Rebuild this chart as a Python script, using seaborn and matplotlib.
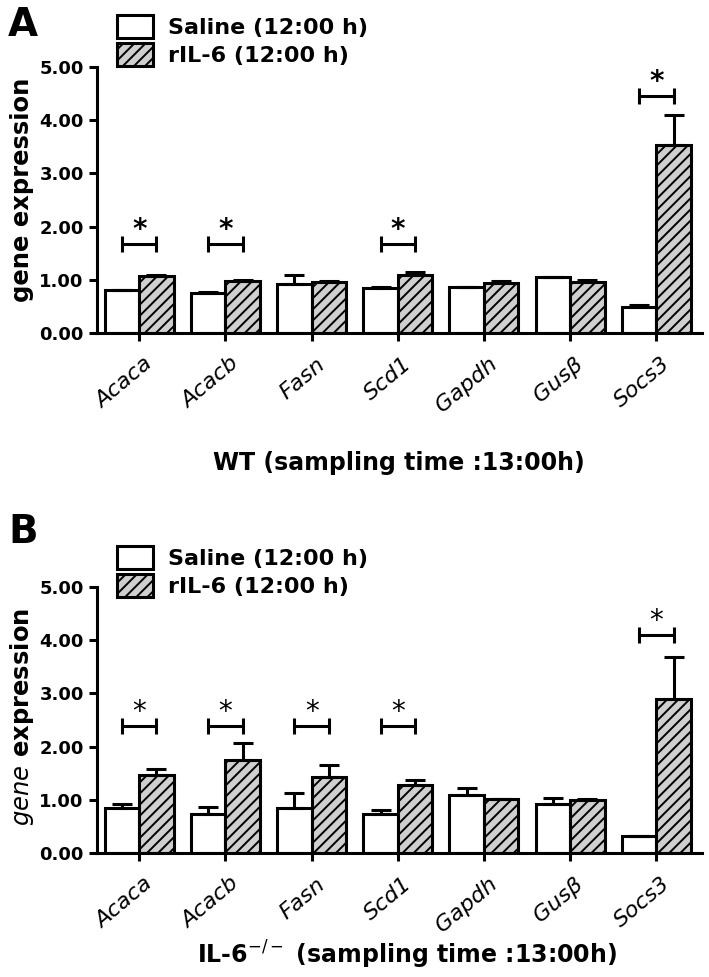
#!/usr/bin/env python3

import numpy as np
import pandas as pd
import matplotlib
matplotlib.use("Agg")
import matplotlib.pyplot as plt
from matplotlib.patches import Patch
import matplotlib.transforms as mtransforms
import seaborn as sns

genes = ["Acaca", "Acacb", "Fasn", "Scd1", "Gapdh", "Gus\u03b2", "Socs3"]
groups = ["Saline (12:00 h)", "rIL-6 (12:00 h)"]

# panel A (WT)
wt_saline = [0.80, 0.75, 0.93, 0.84, 0.87, 1.06, 0.49]
wt_saline_err = [0.0, 0.03, 0.16, 0.03, 0.0, 0.0, 0.04]
wt_ril6 = [1.07, 0.97, 0.95, 1.09, 0.94, 0.96, 3.54]
wt_ril6_err = [0.02, 0.02, 0.03, 0.06, 0.04, 0.04, 0.55]
wt_sig_genes = ["Acaca", "Acacb", "Scd1", "Socs3"]
wt_sig_bracket = [1.67, 1.67, 1.67, 4.45]

# panel B (IL-6 -/-)
ko_saline = [0.84, 0.74, 0.84, 0.74, 1.09, 0.92, 0.32]
ko_saline_err = [0.08, 0.13, 0.28, 0.07, 0.13, 0.12, 0.0]
ko_ril6 = [1.47, 1.75, 1.42, 1.27, 1.01, 0.99, 2.89]
ko_ril6_err = [0.10, 0.32, 0.24, 0.10, 0.0, 0.03, 0.80]
ko_sig_genes = ["Acaca", "Acacb", "Fasn", "Scd1", "Socs3"]
ko_sig_bracket = [2.38, 2.38, 2.38, 2.38, 4.10]

yticks = [0, 1, 2, 3, 4, 5]

sns.set_style("ticks")
plt.rcParams["font.family"] = ["DejaVu Sans"]
plt.rcParams["hatch.linewidth"] = 1.4
plt.rcParams["mathtext.fontset"] = "dejavusans"
for k in ["text.color", "axes.labelcolor", "xtick.color", "ytick.color", "axes.edgecolor"]:
    plt.rcParams[k] = "black"

GRAY = "#cfcfcf"
LW = 2.2


def draw_panel(ax, saline, saline_err, ril6, ril6_err, sig_genes, sig_y, star_bold):
    df = pd.DataFrame({
        "gene": genes * 2,
        "group": [groups[0]] * len(genes) + [groups[1]] * len(genes),
        "value": list(saline) + list(ril6),
    })
    sns.barplot(data=df, x="gene", y="value", hue="group", order=genes,
                hue_order=groups, palette={groups[0]: "white", groups[1]: GRAY},
                edgecolor="black", linewidth=LW, errorbar=None, legend=False,
                width=0.8, saturation=1, ax=ax)
    for p in ax.containers[1]:
        p.set_hatch("///")

    for cont, means, errs in zip(ax.containers, [saline, ril6], [saline_err, ril6_err]):
        xs = [p.get_x() + p.get_width() / 2 for p in cont]
        errs = np.array(errs)
        ax.errorbar(xs, means, yerr=[np.zeros_like(errs), errs], fmt="none",
                    ecolor="black", elinewidth=LW, capsize=7, capthick=LW, zorder=1)

    # significance brackets
    for g, y in zip(sig_genes, sig_y):
        x = genes.index(g)
        ax.errorbar(x, y, xerr=0.2, fmt="none", ecolor="black", elinewidth=LW,
                    capsize=6, capthick=LW, clip_on=False)
        ax.text(x, y + 0.27, "*", ha="center", va="center", fontsize=20,
                fontweight="bold" if star_bold else "normal", clip_on=False)

    ax.set_xlim(-0.49, 6.53)
    ax.set_ylim(0, 5)
    ax.set_yticks(yticks)
    ax.set_yticklabels([f"{v:.2f}" for v in yticks], fontsize=13, fontweight="bold")
    ax.set_xlabel("")
    ax.set_ylabel("")
    sns.despine(ax=ax)
    for s in ["left", "bottom"]:
        ax.spines[s].set_linewidth(LW)
    ax.tick_params(axis="both", width=LW, length=6)
    ax.tick_params(axis="x", pad=9)
    ax.set_xticks(range(len(genes)))
    ax.set_xticklabels(genes, fontsize=16, style="italic", rotation=40,
                       ha="right", rotation_mode="anchor")
    off = mtransforms.ScaledTranslation(3 / 72, 0, ax.figure.dpi_scale_trans)
    for lbl in ax.get_xticklabels():
        lbl.set_transform(lbl.get_transform() + off)


def add_legend(fig, y_top):
    handles = [Patch(facecolor="white", edgecolor="black", linewidth=LW),
               Patch(facecolor=GRAY, edgecolor="black", linewidth=LW, hatch="///")]
    fig.legend(handles, groups, loc="upper left", bbox_to_anchor=(117 / 709, y_top),
               frameon=False, borderpad=0, borderaxespad=0,
               handlelength=1.6, handleheight=1.2, handletextpad=0.7,
               labelspacing=0.25, prop={"size": 16, "weight": "bold"})


fig = plt.figure(figsize=(7.09, 9.77), dpi=100)
axA = fig.add_axes([97 / 709, 1 - 333 / 977, 605 / 709, 266 / 977])
axB = fig.add_axes([97 / 709, 1 - 853 / 977, 605 / 709, 266 / 977])

draw_panel(axA, wt_saline, wt_saline_err, wt_ril6, wt_ril6_err,
           wt_sig_genes, wt_sig_bracket, True)
draw_panel(axB, ko_saline, ko_saline_err, ko_ril6, ko_ril6_err,
           ko_sig_genes, ko_sig_bracket, False)

add_legend(fig, 1 - 15 / 977)
add_legend(fig, 1 - 546 / 977)

fig.text(8 / 709, 1 - 6 / 977, "A", fontsize=28, fontweight="bold", va="top", ha="left")
fig.text(8 / 709, 1 - 513 / 977, "B", fontsize=28, fontweight="bold", va="top", ha="left")

fig.text(22 / 709, 1 - 190 / 977, "gene expression", rotation=90, ha="center",
         va="center", fontsize=17.5, fontweight="bold")
fig.text(22 / 709, 1 - 717 / 977, r"$\mathit{gene}$ expression", rotation=90,
         ha="center", va="center", fontsize=17.5, fontweight="bold")

fig.text(399 / 709, 1 - 463 / 977, "WT (sampling time :13:00h)", ha="center",
         va="center", fontsize=17, fontweight="bold")
fig.text(407 / 709, 1 - 955 / 977, r"IL-6$^{-/-}$ (sampling time :13:00h)",
         ha="center", va="center", fontsize=17, fontweight="bold")

fig.savefig("out.png", dpi=100)
